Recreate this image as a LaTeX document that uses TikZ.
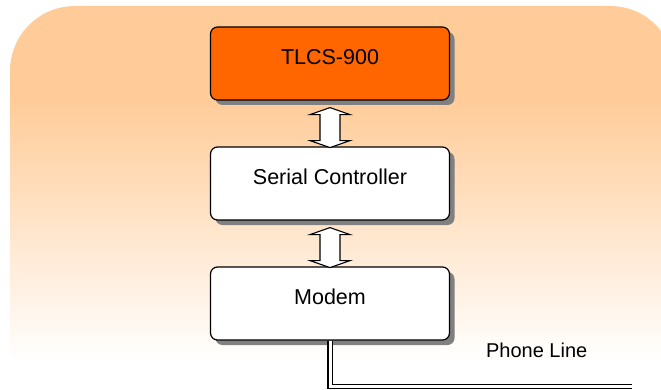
\documentclass[tikz,border=0pt]{standalone}
\usepackage{fontspec}
\setmainfont{Liberation Sans}
\usetikzlibrary{shadows,calc}
\definecolor{peach}{HTML}{FFCC99}
\definecolor{chip}{HTML}{FF6600}
\pgfdeclareverticalshading{bgshade}{100bp}{color(0bp)=(white); color(31.7bp)=(white); color(63.5bp)=(peach); color(100bp)=(peach)}
\begin{document}
\begin{tikzpicture}[x=1pt,y=-1pt,
  blockbox/.style={draw=black, line width=1.2pt, rounded corners=7pt,
    minimum width=239pt, minimum height=73pt, inner sep=0pt,
    text height=15.4pt, text depth=14pt,
    font=\fontsize{21.5}{24}\selectfont,
    drop shadow={shadow xshift=5pt, shadow yshift=-5pt, fill=black!50, opacity=1}},
  blockarr/.style={draw=black, line width=1.1pt, fill=white, line join=miter},
  phoneline/.style={draw=black, double=white, double distance=3pt, line width=1.1pt}]
\useasboundingbox (0,0) rectangle (661,390);
\shade[shading=bgshade, rounded corners=65pt] (10,6) rectangle (675,415);
\node[blockbox, fill=chip] (tlcs) at (330,63.5) {TLCS-900};
\node[blockbox, fill=white] (serial) at (330,183.5) {Serial Controller};
\node[blockbox, fill=white] (modem) at (330,303.5) {Modem};
\draw[blockarr] ($(tlcs.south)+(0,7)$) -- ++(20,7) -- ++(-10,0) -- ++(0,26) -- ++(10,0)
  -- ++(-20,7) -- ++(-20,-7) -- ++(10,0) -- ++(0,-26) -- ++(-10,0) -- cycle;
\draw[blockarr] ($(serial.south)+(0,7)$) -- ++(20,7) -- ++(-10,0) -- ++(0,26) -- ++(10,0)
  -- ++(-20,7) -- ++(-20,-7) -- ++(10,0) -- ++(0,-26) -- ++(-10,0) -- cycle;
\coordinate (lineend) at (632,386.3);
\draw[phoneline] (modem.south) |- (lineend);
\node[anchor=base, inner sep=0pt, font=\fontsize{20}{24}\selectfont] (plabel) at (536.7,357) {Phone Line};
\end{tikzpicture}
\end{document}
